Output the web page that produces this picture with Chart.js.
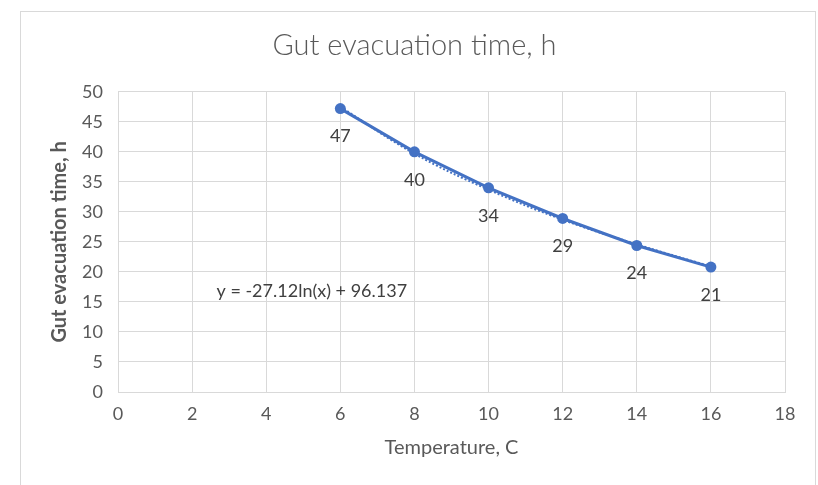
<!DOCTYPE html>
<html>
<head>
<meta charset="utf-8">
<script src="https://cdn.jsdelivr.net/npm/chart.js@4"></script>
<style>
	body { margin: 0; background: #fff; }
	canvas { display: block; }
</style>
</head>
<body>
<canvas id="chart-gut" width="818" height="485"></canvas>
<script>
const temperatures = [6, 8, 10, 12, 14, 16];
const evacuation_hours = [47.2, 40.0, 34.0, 28.9, 24.4, 20.8];
const trend_hours = [47.5, 39.7, 33.7, 28.7, 24.6, 20.9];
const x_ticks = [0, 2, 4, 6, 8, 10, 12, 14, 16, 18];
const y_ticks = [0, 5, 10, 15, 20, 25, 30, 35, 40, 45, 50];
const trend_label = 'y = -27.12ln(x) + 96.137';

const blue = '#4472C4';
const font = 'Lato';

const toPoints = (xs, ys) => xs.map((x, i) => ({ x: x, y: ys[i] }));

// frame around the whole chart
const framePlugin = {
	id: 'frame',
	beforeDraw(chart) {
		const c = chart.ctx;
		c.save();
		c.fillStyle = '#fff';
		c.fillRect(0, 0, chart.width, chart.height);
		c.strokeStyle = '#d9d9d9';
		c.lineWidth = 1;
		c.strokeRect(20.5, 11.5, 795, 490);
		c.restore();
	}
};

// value labels under the points and the trendline equation
const labelPlugin = {
	id: 'valueLabels',
	afterDatasetsDraw(chart) {
		const c = chart.ctx;
		const xs = chart.scales.x, ys = chart.scales.y;
		c.save();
		c.font = '18px ' + font;
		c.fillStyle = '#404040';
		c.textAlign = 'center';
		c.textBaseline = 'middle';
		chart.getDatasetMeta(1).data.forEach((pt, i) => {
			c.fillText(String(Math.round(evacuation_hours[i])), pt.x, pt.y + 28);
		});
		c.fillText(trend_label, xs.getPixelForValue(5.23), ys.getPixelForValue(16.8));
		c.restore();
	}
};

const data = {
	datasets: [
		{
			label: 'Log. trend',
			data: toPoints(temperatures, trend_hours),
			borderColor: blue,
			borderWidth: 2,
			borderDash: [2, 2],
			pointRadius: 0,
			fill: false,
			tension: 0.4
		},
		{
			label: 'Gut evacuation time, h',
			data: toPoints(temperatures, evacuation_hours),
			borderColor: blue,
			backgroundColor: blue,
			borderWidth: 3,
			pointRadius: 5.5,
			pointBorderWidth: 0,
			fill: false,
			tension: 0
		}
	]
};

const tickFont = { family: font, size: 18 };

const config = {
	type: 'scatter',
	data: data,
	options: {
		responsive: false,
		animation: false,
		showLine: true,
		layout: {
			padding: { left: 44, right: 33, top: 0, bottom: 24 }
		},
		plugins: {
			legend: { display: false },
			tooltip: { enabled: false },
			title: {
				display: true,
				text: 'Gut evacuation time, h',
				color: '#595959',
				font: { family: font, size: 29, weight: '300' },
				padding: { top: 28, bottom: 29 }
			}
		},
		scales: {
			x: {
				type: 'linear',
				min: 0,
				max: 18,
				afterBuildTicks: (s) => { s.ticks = x_ticks.map(v => ({ value: v })); },
				afterFit: (s) => { s.height = 69; },
				grid: { color: '#d9d9d9', drawTicks: false },
				border: { color: '#d9d9d9' },
				ticks: { color: '#595959', font: tickFont, padding: 11, maxRotation: 0 },
				title: {
					display: true,
					text: 'Temperature, C',
					color: '#595959',
					font: { family: font, size: 20 },
					padding: { top: 4, bottom: 1 }
				}
			},
			y: {
				type: 'linear',
				min: 0,
				max: 50,
				afterBuildTicks: (s) => { s.ticks = y_ticks.map(v => ({ value: v })); },
				afterFit: (s) => { s.width = 74; },
				grid: { color: '#d9d9d9', drawTicks: false },
				border: { color: '#d9d9d9' },
				ticks: { color: '#595959', font: tickFont, padding: 15 },
				title: {
					display: true,
					text: 'Gut evacuation time, h',
					color: '#595959',
					font: { family: font, size: 20, weight: 'bold' },
					padding: { top: 4, bottom: 4 }
				}
			}
		}
	},
	plugins: [framePlugin, labelPlugin]
};

document.addEventListener('DOMContentLoaded', () => {
	const ctx = document.getElementById('chart-gut');
	const chartGut = new Chart(ctx, config);
});
</script>
</body>
</html>
